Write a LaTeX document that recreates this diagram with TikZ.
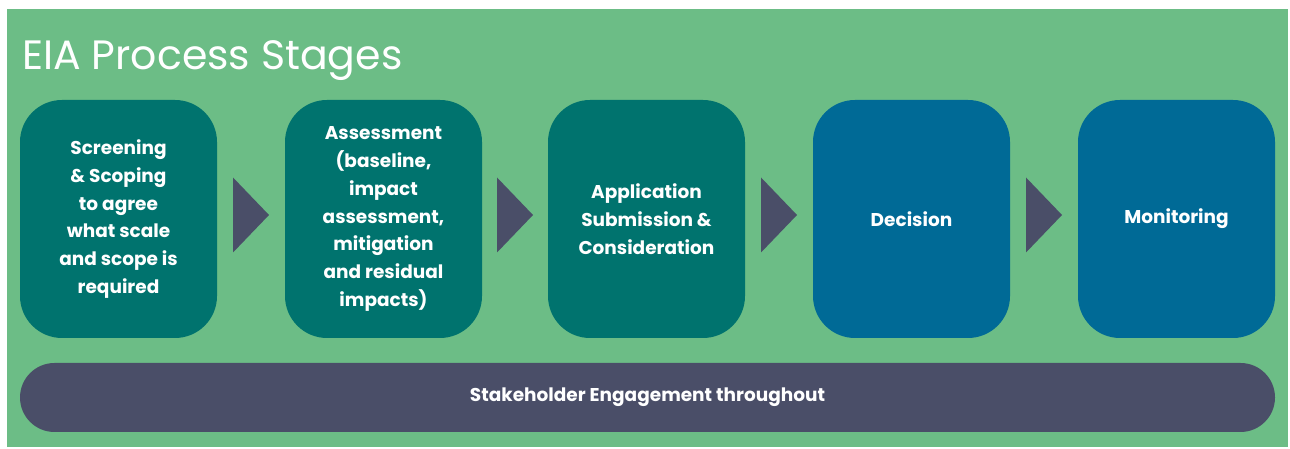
\documentclass[tikz,border=0pt]{standalone}
\usepackage{fontspec}
\setmainfont{Poppins}
\usetikzlibrary{calc}

\definecolor{bggreen}{RGB}{108,189,134}
\definecolor{stageteal}{RGB}{0,115,110}
\definecolor{stageblue}{RGB}{0,106,150}
\definecolor{slate}{RGB}{74,78,104}

\tikzset{
  stage/.style={rounded corners=42pt, minimum width=197pt, minimum height=238pt,
    inner sep=0pt, text=white, align=center, font=\fontsize{18.5}{27.7}\selectfont\bfseries},
  teal/.style={stage, fill=stageteal},
  blue/.style={stage, fill=stageblue},
  tri/.style={fill=slate}
}

\begin{document}
\begin{tikzpicture}[x=1pt,y=1pt]
\useasboundingbox (0,0) rectangle (1290,449);
\fill[bggreen] (7,2) rectangle (1288,440);

\node[anchor=base west, text=white, inner sep=0pt, font=\fontsize{41}{48}\selectfont] (title) at (22,379) {EIA Process Stages};

\node[teal] (s1) at (118.5,230) {Screening\\ \& Scoping\\ to agree\\ what scale\\ and scope is\\ required};
\node[teal] (s2) at (383.5,230) {Assessment\\ (baseline,\\ impact\\ assessment,\\ mitigation\\ and residual\\ impacts)};
\node[teal] (s3) at (646.5,230) {Application\\ Submission \&\\ Consideration};
\node[blue] (s4) at (911.5,230) {Decision};
\node[blue] (s5) at (1176.5,230) {Monitoring};

% arrows between the stages
\foreach \a/\b in {s1/s2, s2/s3, s3/s4, s4/s5}
  \fill[tri] ($(\a.east)!0.5!(\b.west)+(-18,41.5)$) -- ++(36,-37.5) -- ++(-36,-37.5) -- cycle;

\node[fill=slate, rounded corners=34.5pt, minimum width=1255pt, minimum height=69pt, inner sep=0pt,
  text=white, font=\fontsize{18.5}{22}\selectfont\bfseries] (engage) at (647.5,51.5) {Stakeholder Engagement throughout};
\end{tikzpicture}
\end{document}
